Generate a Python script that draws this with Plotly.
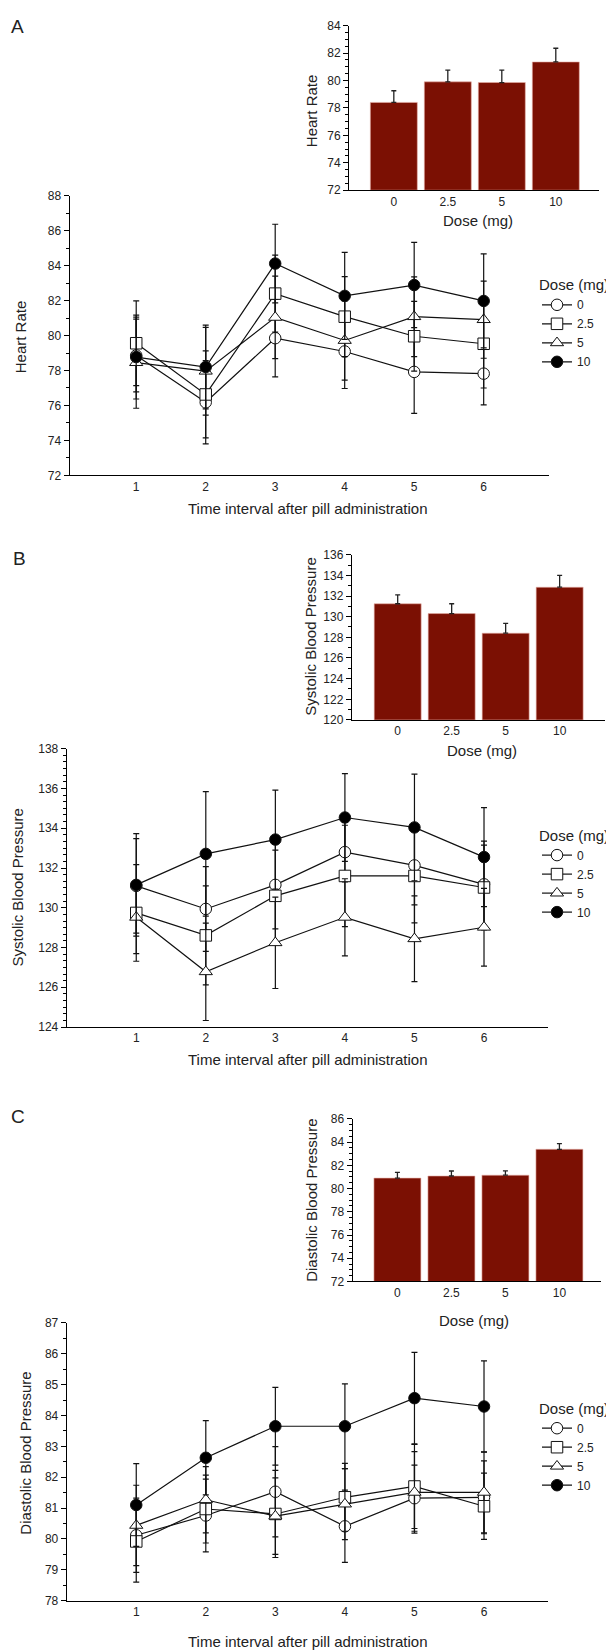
import plotly.graph_objects as go

W, H = 614, 1651

# ---- data ----
doses = ["0", "2.5", "5", "10"]
times = [1, 2, 3, 4, 5, 6]

# Panel A: heart rate
hr_bar = [78.4, 79.9, 79.85, 81.35]
hr_bar_err = [0.85, 0.85, 0.9, 1.0]
hr_0 = [78.86, 76.18, 79.85, 79.09, 77.92, 77.82]
hr_0_err = [2.08, 2.38, 2.22, 2.12, 2.37, 1.79]
hr_25 = [79.56, 76.63, 82.4, 81.08, 79.96, 79.53]
hr_25_err = [2.42, 2.49, 2.2, 2.29, 2.0, 2.53]
hr_5 = [78.45, 77.96, 81.04, 79.72, 81.08, 80.91]
hr_5_err = [2.61, 2.51, 2.36, 2.27, 2.28, 2.21]
hr_10 = [78.77, 78.2, 84.12, 82.27, 82.89, 81.98]
hr_10_err = [2.4, 2.4, 2.25, 2.49, 2.44, 2.69]

# Panel B: systolic blood pressure
sbp_bar = [131.25, 130.3, 128.4, 132.85]
sbp_bar_err = [0.85, 0.95, 0.95, 1.15]
sbp_0 = [131.1, 129.94, 131.15, 132.8, 132.13, 131.18]
sbp_0_err = [2.38, 2.13, 2.21, 1.5, 1.98, 2.17]
sbp_25 = [129.74, 128.61, 130.6, 131.6, 131.6, 131.02]
sbp_25_err = [2.43, 2.49, 2.3, 2.55, 2.36, 2.13]
sbp_5 = [129.52, 126.78, 128.24, 129.52, 128.44, 129.02]
sbp_5_err = [1.83, 2.45, 2.3, 1.94, 2.16, 1.96]
sbp_10 = [131.15, 132.71, 133.43, 134.54, 134.04, 132.55]
sbp_10_err = [2.58, 3.13, 2.49, 2.21, 2.68, 2.49]

# Panel C: diastolic blood pressure
dbp_bar = [80.9, 81.08, 81.15, 83.38]
dbp_bar_err = [0.5, 0.43, 0.37, 0.49]
dbp_0 = [80.12, 80.76, 81.53, 80.41, 81.32, 81.35]
dbp_0_err = [1.2, 1.18, 1.46, 1.17, 1.07, 1.18]
dbp_25 = [79.92, 80.97, 80.81, 81.35, 81.7, 81.06]
dbp_25_err = [1.32, 1.1, 1.41, 1.1, 1.36, 1.07]
dbp_5 = [80.44, 81.27, 80.74, 81.13, 81.51, 81.51]
dbp_5_err = [1.3, 1.07, 1.24, 1.15, 1.32, 1.31]
dbp_10 = [81.1, 82.63, 83.65, 83.65, 84.56, 84.29]
dbp_10_err = [1.34, 1.2, 1.26, 1.37, 1.48, 1.48]

BAR_COLOR = "#7b1003"
FONT = "Liberation Sans, Arial, sans-serif"


def xdom(a, b):
    return [a / W, b / W]


def ydom(top, bottom):
    return [1 - bottom / H, 1 - top / H]


fig = go.Figure()

symbols = [("circle", "white"), ("square", "white"),
           ("triangle-up", "white"), ("circle", "black")]

panels = [
    dict(bar=hr_bar, bar_err=hr_bar_err,
         series=[(hr_0, hr_0_err), (hr_25, hr_25_err), (hr_5, hr_5_err), (hr_10, hr_10_err)],
         bar_x=(341, 591), bar_y=(10.7, 176.7), bar_rng=[72, 84], bar_xr=[-0.83, 3.8],
         main_x=(61.5, 541), main_y=(182.3, 464.3), main_rng=[72, 88], main_xr=[0.04, 6.94],
         dt=2, minor=1, bar_dt=2, bar_minor=0.5),
    dict(bar=sbp_bar, bar_err=sbp_bar_err,
         series=[(sbp_0, sbp_0_err), (sbp_25, sbp_25_err), (sbp_5, sbp_5_err), (sbp_10, sbp_10_err)],
         bar_x=(343.8, 597), bar_y=(544.3, 711), bar_rng=[120, 136], bar_xr=[-0.85, 3.84],
         main_x=(58.7, 540), main_y=(740, 1020.7), main_rng=[124, 138], main_xr=[0.0, 6.92],
         dt=2, minor=1 / 3, bar_dt=2, bar_minor=1),
    dict(bar=dbp_bar, bar_err=dbp_bar_err,
         series=[(dbp_0, dbp_0_err), (dbp_25, dbp_25_err), (dbp_5, dbp_5_err), (dbp_10, dbp_10_err)],
         bar_x=(344.6, 593), bar_y=(1113.3, 1277.3), bar_rng=[72, 86], bar_xr=[-0.83, 3.77],
         main_x=(58.7, 540), main_y=(1319, 1599.3), main_rng=[78, 87], main_xr=[0.0, 6.92],
         dt=1, minor=0.5, bar_dt=2, bar_minor=0.5),
]

layout = {}
for i, p in enumerate(panels):
    bx, by = 2 * i + 1, 2 * i + 1
    mx, my = 2 * i + 2, 2 * i + 2
    sx = lambda n: "" if n == 1 else str(n)
    leg = "legend" if i == 0 else f"legend{i + 1}"

    fig.add_trace(go.Bar(
        x=doses, y=[v - p["bar_rng"][0] for v in p["bar"]], base=p["bar_rng"][0],
        marker=dict(color=BAR_COLOR, line=dict(color="#e8b0a8", width=0.6)),
        error_y=dict(type="data", symmetric=False, array=p["bar_err"],
                     arrayminus=[0] * 4, color="#222", thickness=1.3, width=2.5),
        xaxis="x" + sx(bx), yaxis="y" + sx(by), showlegend=False))

    for (vals, errs), (sym, fill), name in zip(p["series"], symbols, doses):
        fig.add_trace(go.Scatter(
            x=times, y=vals, mode="lines+markers", name=name,
            line=dict(color="#111", width=1.2),
            marker=dict(symbol=sym, size=11.5, color=fill, line=dict(color="#111", width=1)),
            error_y=dict(type="data", array=errs, color="#111", thickness=1.2, width=3),
            xaxis="x" + sx(mx), yaxis="y" + sx(my), legend=leg))

    axis_common = dict(showline=True, linecolor="black", linewidth=1, showgrid=False,
                       zeroline=False, tickfont=dict(family=FONT, size=12, color="#222"))
    layout["xaxis" + sx(bx)] = dict(axis_common, domain=xdom(*p["bar_x"]), anchor="y" + sx(by),
                                    type="category", range=p["bar_xr"], ticks="", fixedrange=True)
    layout["yaxis" + sx(by)] = dict(axis_common, domain=ydom(*p["bar_y"]), anchor="x" + sx(bx),
                                    range=p["bar_rng"], dtick=p["bar_dt"], ticks="outside",
                                    ticklen=5, tickwidth=1, tickcolor="black",
                                    minor=dict(dtick=p["bar_minor"], ticks="outside", ticklen=3,
                                               tickcolor="black"))
    layout["xaxis" + sx(mx)] = dict(axis_common, domain=xdom(*p["main_x"]), anchor="y" + sx(my),
                                    range=p["main_xr"], tickvals=times, ticks="")
    layout["yaxis" + sx(my)] = dict(axis_common, domain=ydom(*p["main_y"]), anchor="x" + sx(mx),
                                    range=p["main_rng"], dtick=p["dt"], ticks="outside",
                                    ticklen=5, tickwidth=1, tickcolor="black",
                                    minor=dict(dtick=p["minor"], ticks="outside", ticklen=3,
                                               tickcolor="black"))
    legend_top = [258, 813, 1391][i]
    layout[leg] = dict(title=dict(text="Dose (mg)", font=dict(family=FONT, size=15, color="#222")),
                       x=529 / W, xanchor="left", y=1 - legend_top / H, yanchor="top",
                       font=dict(family=FONT, size=12, color="#222"), itemwidth=30,
                       bgcolor="rgba(0,0,0,0)", tracegroupgap=0)

ann = []


def text(x, y, s, size=14, angle=0):
    ann.append(dict(x=x / W, y=1 - y / H, xref="paper", yref="paper", text=s, showarrow=False,
                    textangle=angle, font=dict(family=FONT, size=size, color="#222"),
                    xanchor="center", yanchor="middle"))


text(9, 12, "A", 19)
text(11, 548, "B", 19)
text(10, 1111, "C", 19)

text(303, 97, "Heart Rate", 15, -90)
text(303, 627, "Systolic Blood Pressure", 15, -90)
text(304, 1196, "Diastolic Blood Pressure", 15, -90)

text(470, 207, "Dose (mg)", 15)
text(474, 742, "Dose (mg)", 15)
text(466, 1317, "Dose (mg)", 15)

text(12, 325, "Heart Rate", 15, -90)
text(10, 880, "Systolic Blood Pressure", 15, -90)
text(18, 1451, "Diastolic Blood Pressure", 15, -90)

text(300, 498, "Time interval after pill administration", 15)
text(300, 1053, "Time interval after pill administration", 15)
text(300, 1640, "Time interval after pill administration", 15)

fig.update_layout(width=W, height=H, margin=dict(l=0, r=0, t=0, b=0),
                  paper_bgcolor="white", plot_bgcolor="white", bargap=0.13,
                  annotations=ann, **layout)

fig.write_html("out.html")
